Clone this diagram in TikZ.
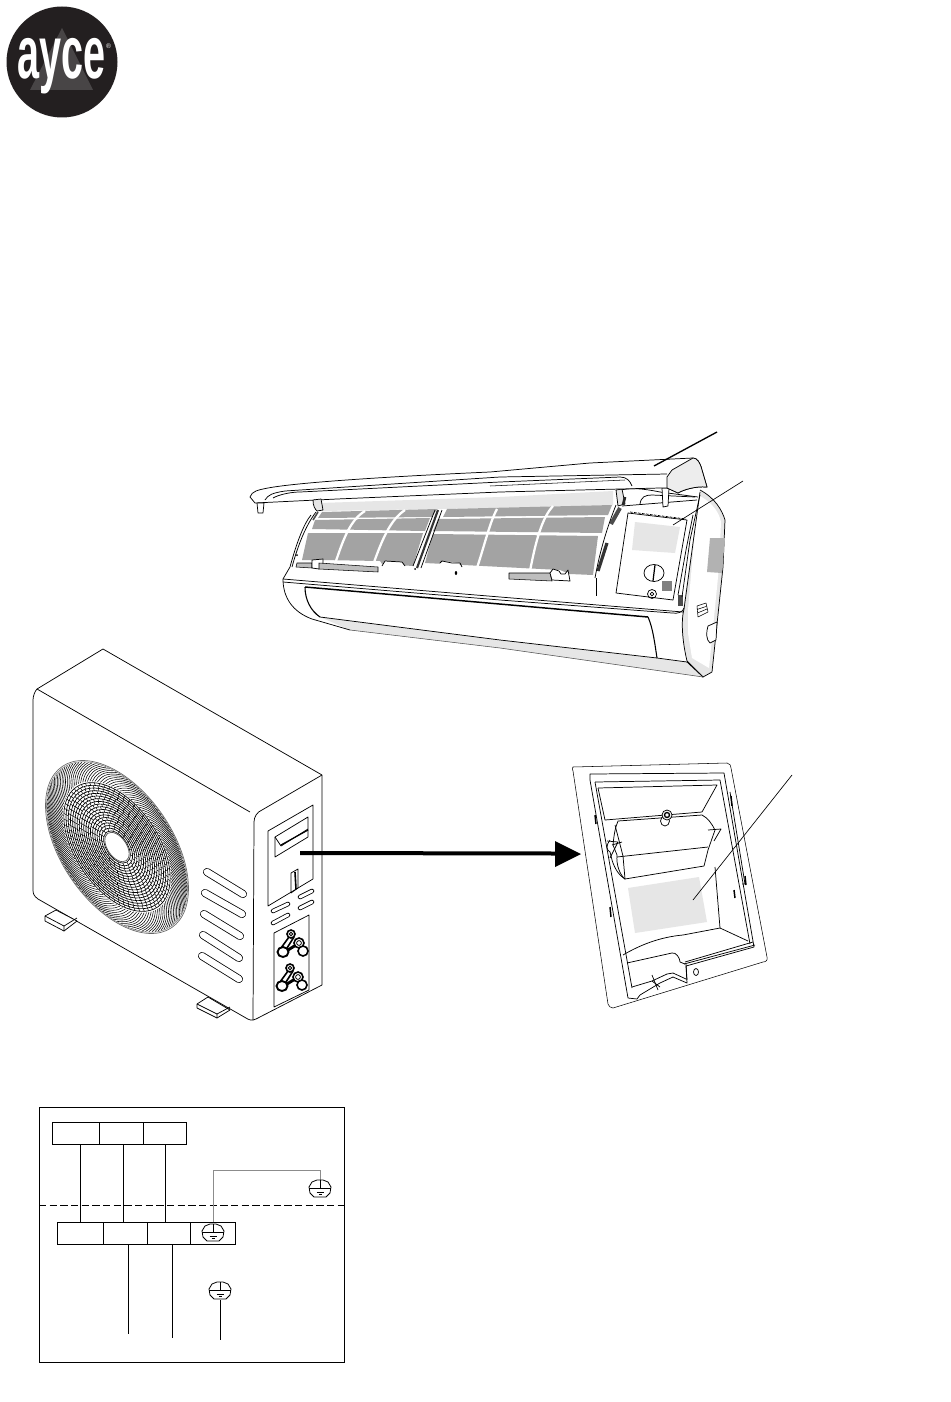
\documentclass[tikz,border=0pt]{standalone}
\usepackage{fontspec}
\setmainfont{Liberation Sans}
\usetikzlibrary{calc}
\definecolor{filtergray}{HTML}{A3A3A3}
\definecolor{lightgray2}{HTML}{E6E6E6}
\definecolor{logodark}{HTML}{231F20}
\tikzset{
  ln/.style={draw=black,line width=0.55pt,line join=round},
  thn/.style={draw=black,line width=0.4pt,line join=round},
  cell/.style={draw=black,line width=0.6pt,minimum height=16.5pt,inner sep=0pt,outer sep=0pt},
  wire/.style={draw=black,line width=0.55pt},
  fanpos/.style={shift={(117,847)},rotate=-55.9},
  declare function={fx(\p,\q)=117+71.5*\p*cos(\q); fy(\p,\q)=847+41.5*\p*cos(\q)+75.9*\p*sin(\q);},
  pics/gnd/.style={code={
    \draw[black,line width=0.6pt,fill=white] (-11,-2) -- (-8,-7) -- (-3,-9) -- (3,-9) -- (8,-7) -- (11,-2) -- (10,4) -- (6,8) -- (-6,8) -- (-10,4) -- cycle;
    \draw[black,line width=0.5pt] (-11,-1) -- (11,-1) (0,-9) -- (0,-1) (-3.5,3) -- (3.5,3) (-1.5,5.5) -- (1.5,5.5);
  }},
  pics/valve/.style={code={
    \draw[black,line width=1.2pt] (-2,3) -- (-10,14) (3,3) -- (-4,14);
    \draw[black,line width=1.2pt,fill=white] (0,0) circle (4);
    \draw[black,line width=.6pt] (0,0) circle (1.8);
    \draw[black,line width=2.2pt] (5,11) -- (-3,16);
    \draw[black,line width=1.2pt,fill=white] (8,9) circle (5);
    \draw[black,line width=.6pt] (8,9) circle (2.4);
    \draw[black,line width=1.4pt] (9,13) -- (11,14);
    \draw[black,line width=1.4pt,fill=white] (-8,18) ellipse (5.5 and 5);
    \draw[black,line width=1.2pt,fill=white] (12,17) circle (5);
  }}
}
\newcommand{\capsule}[5][8]{%
  \draw[black,line width=#1*.75pt,line cap=round] (#2,#3) -- (#4,#5);
  \draw[white,line width=(#1-1.6)*.75pt,line cap=round] (#2,#3) -- (#4,#5);}
\begin{document}
\begin{tikzpicture}[x=.75pt,y=-.75pt]
\useasboundingbox (0,0) rectangle (950,1402);
\fill[white] (0,0) rectangle (950,1402);
%% logo
\fill[logodark] (62,62) circle (55.5);
\fill[white!17!logodark] (62,28) -- (93,90) -- (30,90) -- cycle;
\node[text=white,inner sep=0pt,font=\fontsize{56}{56}\selectfont\bfseries,xscale=.53] (logotext) at (62,66) {ayce};
\node[text=white,inner sep=0pt,font=\fontsize{5}{5}\selectfont] (logoreg) at (108.5,46) {®};
%% ---------- indoor unit
% side cap
\fill[lightgray2] (700,490) .. controls (715,498) and (722,510) .. (725,520) -- (723,567) -- (712,672) -- (703,677) -- (687,661) -- (682,633) -- (683,610) -- cycle;
\fill[white] (698,495) .. controls (712,502) and (719,512) .. (721,522) -- (719,567) -- (709,668) -- (692,658) -- (688,633) -- (688,610) -- cycle;
\draw[ln] (700,490) .. controls (715,498) and (722,510) .. (725,520) -- (723,567) -- (712,672) -- (703,677);
\draw[ln] (700,492) -- (684,609) .. controls (681,620) and (682,640) .. (687,661) -- (703,677);
\fill[black!30] (710,538) -- (725,538) -- (722,573) -- (707,572) -- cycle;
\draw[thn] (697,606) -- (706,603) -- (708,612) -- (698,617) -- cycle (697,609.5) -- (706,606.5) (697.5,613) -- (707,609);
\draw[ln,fill=white] (708,626) -- (717,622) -- (716,640) -- (710,643) .. controls (706,640) and (706,632) .. (708,626) -- cycle;
% lower body strip
\fill[lightgray2] (320,617) -- (500,640) -- (687,662) -- (703,677) -- (500,648) -- (350,630) -- cycle;
\draw[ln] (320,617) -- (500,640) -- (657,658) -- (687,662) -- (703,677);
\draw[black!70,line width=.4pt] (350,630) -- (500,648) -- (703,677);
% body
\draw[ln] (283,579) .. controls (283,598) and (293,612) .. (312,619) -- (350,630);
\draw[ln] (283,579) -- (500,597) -- (683,612);
\draw[ln] (283,582) -- (500,600) -- (672,613) .. controls (678,614) and (683,612) .. (684,608);
\draw[black,line width=1.1pt] (305,587) -- (648,617);
\draw[black,line width=.8pt] (305,587) .. controls (305,600) and (311,611) .. (320,617);
\draw[black,line width=.8pt] (648,617) .. controls (653,628) and (655,645) .. (657,658);
% body left side
\draw[ln] (283,579) -- (290,567) .. controls (296,545) and (303,525) .. (311,515);
\draw[ln] (292,567) .. controls (298,545) and (306,525) .. (316,512);
\draw[black!70,line width=1.2pt] (313,520) -- (318,512);
\fill[black] (297,555) circle (1);
% gray band below lid
\fill[lightgray2] (320,503) -- (500,497) -- (613,491) -- (613,505) -- (500,508) -- (322,511) -- cycle;
% filters left
\fill[filtergray] (322,512) -- (437,509) -- (432,517) -- (318,518) -- cycle;
\fill[filtergray] (315,520) -- (430,518) -- (425,531) -- (312,529) -- cycle;
\fill[filtergray] (308,533) -- (423,533) -- (413,566) -- (382,564) -- (380,561) -- (320,560) -- (302,560) -- cycle;
% filters right
\fill[filtergray] (447,509) -- (612,505) -- (608,515) -- (443,517) -- cycle;
\fill[filtergray] (438,519) -- (605,517) -- (602,533) -- (433,531) -- cycle;
\fill[filtergray] (433,534) -- (598,536) -- (593,575) -- (570,574) -- (560,570) -- (425,563) -- cycle;
% filter dividers
\draw[white,line width=1.7pt] (365,511) .. controls (350,520) and (343,540) .. (335,564);
\draw[white,line width=1.7pt] (405,510) .. controls (390,520) and (382,540) .. (373,565);
\draw[white,line width=1.7pt] (497,509) .. controls (490,522) and (486,540) .. (477,568);
\draw[white,line width=1.7pt] (553,506) .. controls (542,518) and (536,540) .. (530,571);
% notches
\fill[filtergray!70] (297,563) -- (312,563) -- (312,568) -- (296,567) -- cycle;
\draw[thn] (297,563) -- (312,563) -- (312,568) -- (296,567) -- cycle;
\draw[ln,fill=white] (312,560) -- (323,559) -- (323,563) -- (319,569) -- (312,568) -- cycle;
\fill[white] (382,566) -- (385,561) -- (402,562) -- (405,566) -- (405,570) -- (380,570) -- cycle;
\fill[white] (440,563) -- (442,561) -- (460,563) -- (458,570) -- (440,570) -- cycle;
\draw[ln] (382,566) -- (385,561) -- (402,562) -- (405,566);
\draw[ln] (440,563) -- (442,561) -- (452,563) -- (460,563) -- (462,567);
\fill[filtergray!70] (319,563) -- (378,567) -- (378,572) -- (319,569) -- cycle;
\draw[thn] (319,563) -- (378,567) -- (378,572) -- (319,569) -- cycle;
\fill[filtergray!70] (509,573) -- (550,573) -- (552,581) -- (509,579) -- cycle;
\draw[thn] (509,573) -- (550,573) -- (552,581) -- (509,579) -- cycle;
\draw[ln,fill=white] (550,573) -- (553,569) -- (559,571) -- (561,574) -- (565,574) -- (568,570) -- (570,581) -- (552,580) -- cycle;
\fill[black] (415,569) circle (1);
\fill[black] (456,573) ellipse (1.2 and 2);
% filter centre and right strip
\draw[black!80,line width=1.6pt] (438,510) -- (417,568);
\draw[ln] (435,510) -- (413,566);
\draw[ln] (442,510) -- (421,568);
\draw[black!70,line width=3pt] (620,508) -- (611,524);
\draw[black!80,line width=2.4pt] (607,543) -- (598,571);
\draw[ln] (616,505) .. controls (608,525) and (600,550) .. (595,578);
\draw[ln] (596,578) -- (596,596);
% control box
\draw[ln,fill=white] (628,513) -- (687,520) -- (673,600) -- (616,593) -- cycle;
\draw[ln,dash pattern=on 2pt off 1pt] (630,512) -- (686,519);
\fill[lightgray2] (635,522) -- (680,527) -- (675,553) -- (632,550) -- cycle;
\draw[ln] (654,573) ellipse (10 and 8.5);
\draw[black,line width=.9pt] (655,565) -- (653,581);
\fill[black!50] (662,581) rectangle (672,591);
\draw[ln] (652,594) circle (4.5);
\draw[ln] (652,594) circle (1.8);
\fill[black!70] (678,595) rectangle (683,606);
\draw[ln] (700,495) -- (690,540) -- (682,597);
\draw[ln] (693,515) -- (686,550) -- (678,595);
% top right frame
\draw[ln] (620,490) .. controls (632,488) and (640,488) .. (660,492) -- (698,497);
\draw[ln] (640,504) .. controls (641,497) and (645,495) .. (652,495) -- (695,497);
\draw[ln] (622,506) -- (697,500);
\draw[ln,fill=white] (662,488) -- (669,488) -- (668,506) -- (663,507) -- cycle;
\draw[ln,fill=lightgray2] (616,490) -- (622,489) -- (625,504) -- (618,506) -- cycle;
\draw[black!85,line width=2pt] (625,497) -- (623,505);
% lid
\draw[ln,fill=white] (250,497) .. controls (252,491) and (258,490) .. (268,488) .. controls (300,482) and (400,476) .. (490,472) -- (590,463) -- (693,458) .. controls (697,458) and (700,462) .. (702,470) -- (707,487) .. controls (695,486) and (683,490) .. (678,493) -- (667,488) -- (660,488) -- (500,492) -- (337,499) -- (255,503) -- cycle;
\draw[ln,fill=black!7] (667,477) -- (672,470) -- (693,458) .. controls (697,458) and (700,462) .. (702,470) -- (707,487) .. controls (695,486) and (683,490) .. (678,493) -- (667,488) -- cycle;
\draw[ln] (265,500) .. controls (268,495) and (272,493) .. (285,491) -- (500,477) -- (667,474);
\draw[ln] (273,498) .. controls (278,495) and (290,492) .. (300,492) -- (500,482) -- (620,477) .. controls (627,477) and (630,481) .. (632,486);
\draw[thn] (490,486) -- (625,480);
% lid clip and hinge
\draw[ln,fill=white] (257,503) -- (264,503) -- (263,513) -- (258,513) -- cycle;
\draw[ln,fill=lightgray2] (313,500) -- (321,499) -- (323,510) -- (317,511) .. controls (315,509) and (313,506) .. (313,500) -- cycle;
%% leaders indoor
\coordinate (lidpoint) at (654,466);
\coordinate (lidfree) at (717,432);
\coordinate (boxpoint) at (673,525);
\coordinate (boxfree) at (743,481);
\draw[black,line width=1pt] (lidfree) -- (lidpoint);
\draw[black,line width=.5pt] (boxfree) -- (boxpoint);
%% ---------- outdoor unit
\draw[ln,fill=white] (103,649) -- (322,775) -- (322,985) -- (256,1019) .. controls (252,1021) and (249,1020) .. (246,1018) -- (38,899) .. controls (34,896) and (33,894) .. (33,890) -- (33,700) .. controls (33,696) and (35,691) .. (37,689) -- cycle;
\draw[ln] (37,689) -- (250,812);
\draw[ln] (322,775) -- (262,810) .. controls (257,812) and (254,817) .. (254,822) -- (253,1020);
% feet
\draw[ln,fill=white] (45,916) -- (56,910) -- (77,921) -- (64,931) -- (45,921) -- cycle;
\draw[ln] (45,916) -- (64,926) -- (64,931);
\draw[ln] (64,926) -- (77,918);
\draw[ln,fill=white] (197,1004) -- (208,997) -- (230,1010) -- (217,1018) -- (197,1008) -- cycle;
\draw[ln] (197,1004) -- (217,1014) -- (217,1018);
\draw[ln] (217,1014) -- (230,1007);
% fan
\draw[fanpos,black!60,line width=.5pt] (0,0) ellipse [x radius=97.4,y radius=55.7];
\draw[fanpos,black!60,line width=.3pt] (0,0) ellipse [x radius=96,y radius=54.9];
\foreach \a in {0,3,...,357} {
  \draw[black,line width=.4pt] ({fx(.76,\a)},{fy(.76,\a)}) .. controls ({fx(.84,\a+6)},{fy(.84,\a+6)}) and ({fx(.92,\a+12)},{fy(.92,\a+12)}) .. ({fx(.98,\a+24)},{fy(.98,\a+24)});
}
\foreach \n in {6,...,24} {
  \pgfmathsetmacro{\fr}{\n*.031}
  \pgfmathsetmacro{\fA}{97.4*\fr}
  \pgfmathsetmacro{\fB}{55.7*\fr}
  \draw[fanpos,black,line width=.5pt] (0,0) ellipse [x radius=\fA,y radius=\fB];
  \pgfmathtruncatemacro{\fnn}{round(\fr*90)}
  \pgfmathsetmacro{\fstep}{360/\fnn}
  \pgfmathsetmacro{\fst}{mod(\n,2)*\fstep/2}
  \pgfmathsetmacro{\frr}{\fr+.031}
  \ifnum\n<24
  \foreach \k in {1,...,\fnn} {
    \pgfmathsetmacro{\fang}{\fst+\k*\fstep}
    \draw[black,line width=.35pt] ({fx(\fr,\fang)},{fy(\fr,\fang)}) -- ({fx(\frr,\fang)},{fy(\frr,\fang)});
  }
  \fi
}
\draw[fanpos,black!70,line width=.5pt,fill=white] (0,0) ellipse [x radius=16.5,y radius=9.5];
% left louvres
\capsule{207}{872}{243}{894}
\capsule{205}{893}{242}{914}
\capsule{204}{914}{240}{936}
\capsule{203}{935}{239}{958}
\capsule{202}{956}{239}{979}
% side panel
\draw[ln] (268,831) -- (313,805) -- (313,879) -- (268,906) -- cycle;
\draw[ln] (275,837) -- (308,817) -- (308,837) -- (275,857) -- cycle;
\draw[ln] (275,837) -- (281,846) -- (308,829);
\draw[black,line width=.9pt] (281,845) -- (308,830);
\draw[ln] (291,873) -- (298,869) -- (298,888) -- (291,893) -- cycle;
\draw[black,line width=1.2pt] (295,872) -- (296,889);
\capsule[4.5]{273}{911}{288}{904}
\capsule[4.5]{273}{923}{288}{915}
\capsule[4.5]{300}{897}{312}{891}
\capsule[4.5]{300}{908}{312}{902}
\draw[ln] (274,933) -- (309,915) -- (309,990) -- (274,1007) -- cycle;
\pic at (291,934) {valve};
\pic at (290,968) {valve};
%% arrow
\coordinate (arrowstart) at (300,853);
\coordinate (arrowneck) at (556,853.5);
\coordinate (arrowtip) at (581,854);
\draw[black,line width=3pt] (arrowstart) -- (arrowneck);
\fill[black] (555,841) -- (arrowtip) -- (555,867) -- cycle;
%% ---------- cover panel
\draw[thn] (573,767) -- (727,763) .. controls (730,763) and (731,766) .. (731,768) -- (767,957) .. controls (768,960) and (766,962) .. (763,962) -- (613,1008) .. controls (610,1008) and (609,1006) .. (608,1004) -- (573,771) .. controls (572,769) and (572,768) .. (573,767) -- cycle;
% inner walls
\draw[ln] (590,774) -- (724,773) -- (754,947) -- (686,966) -- (687,983) -- (673,977) -- (660,983) -- (640,995) -- (637,999) -- (628,998) -- (590,780) -- cycle;
\draw[ln] (595,782) -- (720,780) -- (750,944);
\draw[ln] (595,782) -- (632,988);
\draw[ln] (598,788) -- (717,785) -- (702,812);
\draw[ln] (598,788) -- (605,820) -- (702,812);
\draw[ln] (715,867) -- (720,928) -- (748,941);
\draw[ln] (623,955) .. controls (640,945) and (660,937) .. (683,935) -- (720,928);
\draw[ln] (627,963) -- (672,953) .. controls (676,952) and (680,958) .. (680,962) -- (685,964);
\draw[ln] (684,964) -- (755,945);
\draw[ln] (685,962) -- (753,942);
\draw[ln] (686,964) -- (687,980);
\draw[ln] (632,987) -- (652,981) -- (660,987);
\draw[ln] (652,981) -- (667,974) -- (673,973) -- (686,979);
\draw[ln] (652,975) -- (658,990);
\draw[ln] (696,972) ellipse (2.5 and 3.5);
% clips
\draw[black,line width=1.1pt] (595,815) -- (596,824) (610,907) -- (611,917) (731,796) -- (732,806) (745,876) -- (746,885) (734,890) -- (735,898);
\draw[ln] (730,792) -- (745,884) -- (742,884);
% box in panel
\draw[ln,fill=white] (618,821) -- (702,815) .. controls (708,818) and (712,824) .. (715,830) -- (708,850) -- (704,866) -- (625,879) .. controls (620,875) and (616,865) .. (617,855) -- (613,845) .. controls (614,835) and (615,828) .. (618,821) -- cycle;
\draw[ln] (617,857) -- (708,847);
\draw[ln] (615,825) -- (623,856);
\draw[ln] (623,856) -- (625,879);
\draw[ln] (612,845) -- (622,842);
\draw[ln] (610,840) .. controls (606,845) and (606,850) .. (610,852) -- (612,860) .. controls (615,870) and (620,876) .. (625,879);
\draw[ln] (708,830) -- (721,829) -- (714,841);
\draw[ln] (607,841) -- (618,842) -- (610,858);
\draw[ln,fill=white] (665,821) ellipse (4.5 and 5);
\draw[ln,fill=white] (667,815) ellipse (5 and 5);
\draw[black,line width=1pt] (667,815) circle (2.5);
% gray plate
\fill[lightgray2] (628,888) -- (699,877) -- (707,922) -- (635,933) -- cycle;
\coordinate (platepoint) at (693,900);
\coordinate (platefree) at (792,775);
\draw[black,line width=.5pt] (platefree) -- (platepoint);
%% ---------- wiring diagram
\draw[black,line width=.6pt] (39,1107) rectangle (344,1362);
\draw[black,line width=.6pt,dash pattern=on 5.5pt off 2.5pt] (39,1205) -- (344,1205);
\node[cell,minimum width=35.25pt] (t1) at (75.5,1133) {};
\node[cell,minimum width=33pt] (t2) at (121,1133) {};
\node[cell,minimum width=32.25pt] (t3) at (164.5,1133) {};
\node[cell,minimum width=34.5pt] (b1) at (80,1233) {};
\node[cell,minimum width=33pt] (b2) at (125,1233) {};
\node[cell,minimum width=32.25pt] (b3) at (168.5,1233) {};
\node[cell,minimum width=33.75pt] (b4) at (212.5,1233) {};
\coordinate (ta) at (80,0);
\coordinate (tb) at (123,0);
\coordinate (tc) at (165,0);
\draw[wire] (t1.south -| ta) -- (b1.north -| ta);
\draw[wire] (t2.south -| tb) -- (b2.north -| tb);
\draw[wire] (t3.south -| tc) -- (b3.north -| tc);
\coordinate (w1) at (128,1334);
\coordinate (w2) at (172,1338);
\coordinate (w3) at (220,1340);
\draw[wire] (b2.south -| w1) -- (w1);
\draw[wire] (b3.south -| w2) -- (w2);
\draw[black!45,line width=.55pt] (213,1222) -- (213,1170) -- (320,1170) -- (320,1180);
\pic at (320,1189) {gnd};
\pic at (213,1233) {gnd};
\pic at (220,1291) {gnd};
\draw[wire] (220,1300) -- (w3);
\end{tikzpicture}
\end{document}
